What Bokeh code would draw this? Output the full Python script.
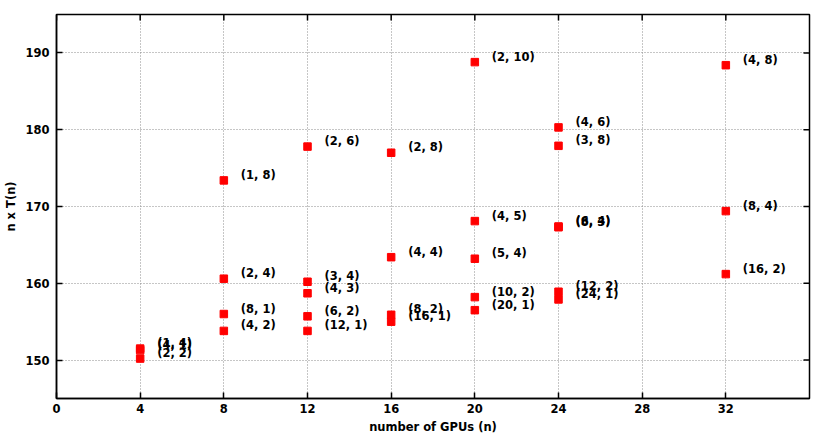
import math
from bokeh.plotting import figure
from bokeh.models import ColumnDataSource, FixedTicker
from bokeh.core.properties import value
from bokeh.embed import file_html
from bokeh.resources import INLINE

# number of GPUs (n)
gpus = [4, 4, 4,
        8, 8, 8, 8,
        12, 12, 12, 12, 12,
        16, 16, 16, 16,
        20, 20, 20, 20, 20,
        24, 24, 24, 24, 24, 24,
        32, 32, 32]
# n x T(n)
n_times_t = [151.5, 151.3, 150.2,
             173.4, 160.6, 156.0, 153.8,
             177.8, 160.2, 158.7, 155.7, 153.8,
             177.0, 163.4, 155.9, 155.0,
             188.8, 168.1, 163.2, 158.2, 156.5,
             180.3, 177.9, 167.4, 167.3, 158.9, 157.9,
             188.4, 169.4, 161.2]
# point labels
point_labels = ["(1, 4)", "(4, 1)", "(2, 2)",
                "(1, 8)", "(2, 4)", "(8, 1)", "(4, 2)",
                "(2, 6)", "(3, 4)", "(4, 3)", "(6, 2)", "(12, 1)",
                "(2, 8)", "(4, 4)", "(8, 2)", "(16, 1)",
                "(2, 10)", "(4, 5)", "(5, 4)", "(10, 2)", "(20, 1)",
                "(4, 6)", "(3, 8)", "(6, 4)", "(8, 3)", "(12, 2)", "(24, 1)",
                "(4, 8)", "(8, 4)", "(16, 2)"]

x_ticks = [0, 4, 8, 12, 16, 20, 24, 28, 32]
y_ticks = [150, 160, 170, 180, 190]
x_lim = (0, 36)
y_lim = (145, 195)

FONT = "DejaVu Sans"
FS = "11.5px"

src = ColumnDataSource(data=dict(x=gpus, y=n_times_t, label=point_labels))

p = figure(width=830, height=436, x_range=x_lim, y_range=y_lim,
           output_backend="svg", toolbar_location=None,
           min_border_left=56, min_border_right=21,
           min_border_top=14, min_border_bottom=37)
p.background_fill_color = "white"
p.border_fill_color = "white"
p.outline_line_color = "black"
p.outline_line_width = 1.5

p.xaxis.ticker = FixedTicker(ticks=x_ticks)
p.yaxis.ticker = FixedTicker(ticks=y_ticks)
p.xgrid.ticker = FixedTicker(ticks=x_ticks)
p.ygrid.ticker = FixedTicker(ticks=y_ticks)
for g in (p.xgrid, p.ygrid):
    g.grid_line_color = "#8c8c8c"
    g.grid_line_dash = "1 2"
    g.grid_line_width = 1

for ax in (p.xaxis, p.yaxis):
    ax.axis_line_color = "black"
    ax.axis_line_width = 1.5
    ax.major_tick_in = 6
    ax.major_tick_out = 0
    ax.major_tick_line_width = 1.5
    ax.minor_tick_in = 0
    ax.minor_tick_out = 0
    ax.major_label_text_font = FONT
    ax.major_label_text_font_style = "bold"
    ax.major_label_text_font_size = FS
    ax.major_label_text_color = "black"
    ax.axis_label_text_font = FONT
    ax.axis_label_text_font_style = "bold"
    ax.axis_label_text_font_size = FS
    ax.axis_label_text_color = "black"

p.xaxis.axis_label = "number of GPUs (n)"
p.yaxis.axis_label = "n x T(n)"
p.xaxis.major_label_standoff = 5
p.xaxis.axis_label_standoff = 4
p.yaxis.major_label_standoff = 7
p.yaxis.axis_label_standoff = 4

# mirrored inward ticks on the top and right edges of the frame
p.scatter(x=x_ticks, y=[y_lim[1]] * len(x_ticks), marker="dash",
          angle=math.pi / 2, size=12, line_color="black", line_width=1.5)
p.scatter(x=[x_lim[1]] * len(y_ticks), y=y_ticks, marker="dash",
          size=12, line_color="black", line_width=1.5)

p.scatter(x="x", y="y", source=src, marker="square", size=7.5,
          fill_color="#ff0000", line_color="#ff0000")

p.text(x="x", y="y", text="label", source=src, x_offset=17, y_offset=-5.5,
       text_align="left", text_baseline="middle",
       text_font=value(FONT), text_font_style="bold", text_font_size=FS,
       text_color="black")

open("out.html", "w").write(file_html(p, INLINE))
